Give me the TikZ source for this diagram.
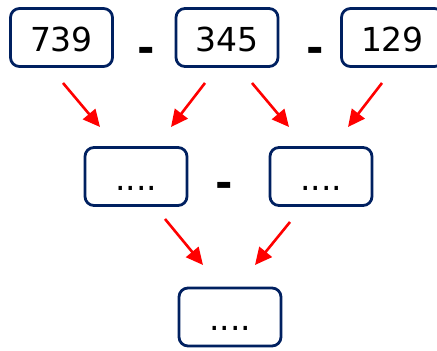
\documentclass[tikz,border=0pt]{standalone}
\usepackage{fontspec}
\setmainfont{DejaVu Sans}
\usetikzlibrary{arrows.meta, positioning}
\definecolor{colBox}{RGB}{0, 32, 96}
\definecolor{colArr}{RGB}{255, 0, 0}

\begin{document}
\begin{tikzpicture}[x=1pt, y=1pt,
    numbox/.style={draw=colBox, line width=2.8pt, rounded corners=9pt,
        minimum width=102pt, minimum height=58pt, inner sep=0pt,
        font=\fontsize{33}{37}\selectfont, text height=28pt, text depth=0pt},
    minus/.style={font=\fontsize{42}{46}\selectfont\bfseries, inner sep=0pt},
    arr/.style={colArr, line width=2.6pt, -{Triangle[length=17pt, width=16pt]}}]
    \useasboundingbox (0,0) rectangle (437,351);

    % Baris atas
    \node[numbox] (n739) at (61.5, 313.5) {739};
    \node[numbox] (n345) at (227, 313.5) {345};
    \node[numbox] (n129) at (392.5, 313.5) {129};
    \node[minus] (m1) at (146.5, 296.5) {-};
    \node[minus] (m2) at (315.5, 296.5) {-};

    % Baris tengah
    \node[numbox] (hasilA) at (136, 174.5) {....};
    \node[numbox] (hasilB) at (321, 174.5) {....};
    \node[minus] (m3) at (224, 161.5) {-};

    % Baris bawah
    \node[numbox] (akhir) at (230, 34) {....};

    % Ujung panah
    \coordinate (s1) at (63, 268);  \coordinate (e1) at (100, 224);
    \coordinate (s2) at (205, 268); \coordinate (e2) at (171, 224);
    \coordinate (s3) at (252, 268); \coordinate (e3) at (289, 224);
    \coordinate (s4) at (382, 268); \coordinate (e4) at (348, 224);
    \coordinate (s5) at (165, 132); \coordinate (e5) at (203, 86);
    \coordinate (s6) at (290, 129); \coordinate (e6) at (255, 86);
    \foreach \i in {1,...,6} \draw[arr] (s\i) -- (e\i); % Panah merah
\end{tikzpicture}
\end{document}
